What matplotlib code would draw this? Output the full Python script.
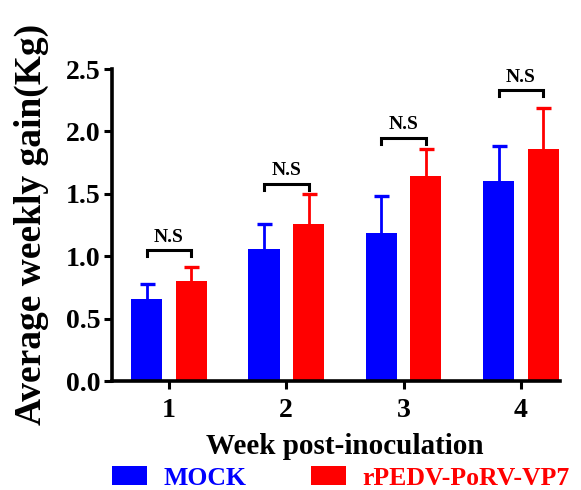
import matplotlib
matplotlib.use("Agg")
import matplotlib.pyplot as plt
import numpy as np

plt.rcParams['font.family'] = ['Liberation Serif', 'DejaVu Serif']
plt.rcParams['font.weight'] = 'bold'

weeks = ['1', '2', '3', '4']
mock_mean = [0.66, 1.06, 1.19, 1.60]
mock_err = [0.12, 0.20, 0.29, 0.28]
vp7_mean = [0.80, 1.26, 1.64, 1.86]
vp7_err = [0.11, 0.24, 0.22, 0.33]
bracket_y = [1.05, 1.58, 1.95, 2.33]
sig_labels = ['N.S', 'N.S', 'N.S', 'N.S']
series_names = ['MOCK', 'rPEDV-PoRV-VP7']
colors = ['#0000FF', '#FF0000']
yticks = [0.0, 0.5, 1.0, 1.5, 2.0, 2.5]

fig = plt.figure(figsize=(5.81, 4.90), dpi=100)
ax = fig.add_axes([0.192, 0.2224, 0.772, 0.6367])

x = np.arange(1, len(weeks) + 1)
w = 0.265
off = 0.19
ax.errorbar(x - off, mock_mean, yerr=mock_err, fmt='none',
            ecolor=colors[0], elinewidth=2.0, capsize=5.4, capthick=2.4, zorder=1)
ax.errorbar(x + off, vp7_mean, yerr=vp7_err, fmt='none',
            ecolor=colors[1], elinewidth=2.0, capsize=5.4, capthick=2.4, zorder=1)
b1 = ax.bar(x - off, mock_mean, w, color=colors[0], linewidth=0, zorder=3)
b2 = ax.bar(x + off, vp7_mean, w, color=colors[1], linewidth=0, zorder=3)

leg = 0.05
for xi, by, lab in zip(x, bracket_y, sig_labels):
    ax.plot([xi - off, xi - off, xi + off, xi + off], [by - leg, by, by, by - leg],
            color='black', lw=2.2, solid_joinstyle='miter', clip_on=False)
    ax.text(xi, by + 0.035, lab, ha='center', va='bottom', fontsize=14, fontweight='bold')

ax.set_xlim(0.51, 4.335)
ax.set_ylim(0, 2.5)
ax.set_xticks(x)
ax.set_xticklabels(weeks)
ax.set_yticks(yticks)
ax.set_yticklabels([f'{v:.1f}' for v in yticks])
for s in ['top', 'right']:
    ax.spines[s].set_visible(False)
for s in ['left', 'bottom']:
    ax.spines[s].set_linewidth(2.6)
    ax.spines[s].set_zorder(4)
ax.tick_params(axis='both', direction='out', length=6, width=2.2, labelsize=20)
ax.tick_params(axis='x', pad=6)
ax.tick_params(axis='y', pad=2)

ax.set_xlabel('Week post-inoculation', fontsize=21, fontweight='bold')
ax.xaxis.set_label_coords(0.52, -0.165)
ax.set_ylabel('Average weekly gain(Kg)', fontsize=27, fontweight='bold')
ax.yaxis.set_label_coords(-0.14, 0.503)

lg = fig.legend([b1, b2], series_names, loc='center left',
                bbox_to_anchor=(111.7 / 581, 1 - 478 / 490), ncol=2, frameon=False,
                fontsize=18.5, handlelength=1.36, handleheight=0.75,
                handletextpad=0.66, columnspacing=2.5, borderpad=0, borderaxespad=0)
for t, c in zip(lg.get_texts(), colors):
    t.set_color(c)

fig.savefig('out.png', dpi=100)
